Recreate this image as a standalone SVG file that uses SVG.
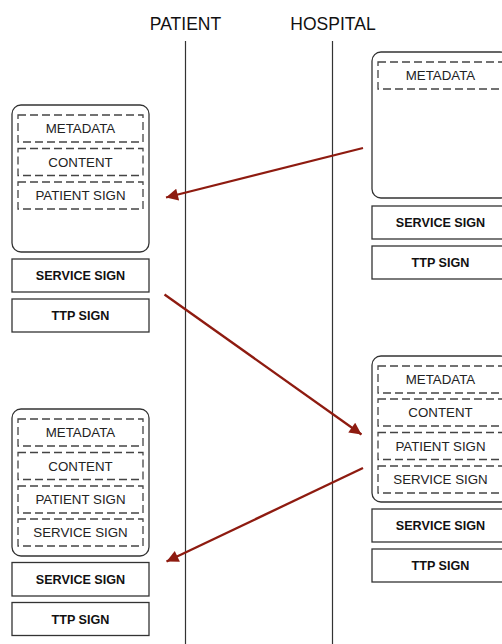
<svg xmlns="http://www.w3.org/2000/svg" width="502" height="644" viewBox="0 0 502 644">
<defs>
<style>
.title{font-family:"Liberation Sans",Arial,sans-serif;font-size:17.5px;fill:#111;text-anchor:middle}
.life{stroke:#333;stroke-width:1.2;fill:none}
.cont{fill:#fff;stroke:#333;stroke-width:1.3}
.dash{fill:none;stroke:#444;stroke-width:1.3;stroke-dasharray:8 4}
.box{fill:#fff;stroke:#333;stroke-width:1.3}
.lbl{font-family:"Liberation Sans",Arial,sans-serif;font-size:13.3px;fill:#222;text-anchor:middle}
.blbl{font-family:"Liberation Sans",Arial,sans-serif;font-size:12.6px;font-weight:bold;fill:#111;text-anchor:middle}
.arrow{stroke:#8e1b10;stroke-width:2.3;fill:none;marker-end:url(#ah)}
</style>
<marker id="ah" viewBox="0 0 10 10" refX="10" refY="5" markerWidth="17" markerHeight="12" markerUnits="userSpaceOnUse" orient="auto">
<path d="M0,0 L10,5 L0,10 z" fill="#8e1b10"/>
</marker>
</defs>
<rect width="502" height="644" fill="#fff"/>
<g id="lifelines">
<text class="title" x="185.5" y="30">PATIENT</text>
<text class="title" x="333" y="30">HOSPITAL</text>
<line class="life" x1="185.5" y1="41" x2="185.5" y2="644"/>
<line class="life" x1="332.5" y1="41" x2="332.5" y2="644"/>
</g>
<g id="patient-msg-1">
<rect class="cont" x="12" y="105" width="137" height="147" rx="9"/>
<rect class="dash" x="18" y="115" width="125" height="27"/>
<text class="lbl" x="80.5" y="133.3">METADATA</text>
<rect class="dash" x="18" y="148.5" width="125" height="27"/>
<text class="lbl" x="80.5" y="166.8">CONTENT</text>
<rect class="dash" x="18" y="182" width="125" height="27"/>
<text class="lbl" x="80.5" y="200.3">PATIENT SIGN</text>
<rect class="box" x="12" y="259" width="137" height="33"/>
<text class="blbl" x="80.5" y="280">SERVICE SIGN</text>
<rect class="box" x="12" y="299" width="137" height="33"/>
<text class="blbl" x="80.5" y="320">TTP SIGN</text>
</g>
<g id="hospital-msg-1">
<rect class="cont" x="372" y="52" width="137" height="146" rx="9"/>
<rect class="dash" x="378" y="62" width="125" height="27"/>
<text class="lbl" x="440.5" y="80.3">METADATA</text>
<rect class="box" x="372" y="206" width="137" height="33"/>
<text class="blbl" x="440.5" y="227">SERVICE SIGN</text>
<rect class="box" x="372" y="246" width="137" height="33"/>
<text class="blbl" x="440.5" y="267">TTP SIGN</text>
</g>
<g id="hospital-msg-2">
<rect class="cont" x="372" y="356" width="137" height="146" rx="9"/>
<rect class="dash" x="378" y="366" width="125" height="27"/>
<text class="lbl" x="440.5" y="384.3">METADATA</text>
<rect class="dash" x="378" y="399" width="125" height="27"/>
<text class="lbl" x="440.5" y="417.3">CONTENT</text>
<rect class="dash" x="378" y="432.5" width="125" height="27"/>
<text class="lbl" x="440.5" y="450.8">PATIENT SIGN</text>
<rect class="dash" x="378" y="466" width="125" height="27"/>
<text class="lbl" x="440.5" y="484.3">SERVICE SIGN</text>
<rect class="box" x="372" y="509" width="137" height="33"/>
<text class="blbl" x="440.5" y="530">SERVICE SIGN</text>
<rect class="box" x="372" y="549" width="137" height="33"/>
<text class="blbl" x="440.5" y="570">TTP SIGN</text>
</g>
<g id="patient-msg-2">
<rect class="cont" x="12" y="409" width="137" height="147" rx="9"/>
<rect class="dash" x="18" y="419" width="125" height="27"/>
<text class="lbl" x="80.5" y="437.3">METADATA</text>
<rect class="dash" x="18" y="452.5" width="125" height="27"/>
<text class="lbl" x="80.5" y="470.8">CONTENT</text>
<rect class="dash" x="18" y="486" width="125" height="27"/>
<text class="lbl" x="80.5" y="504.3">PATIENT SIGN</text>
<rect class="dash" x="18" y="519" width="125" height="27"/>
<text class="lbl" x="80.5" y="537.3">SERVICE SIGN</text>
<rect class="box" x="12" y="562.5" width="137" height="33.5"/>
<text class="blbl" x="80.5" y="583.7">SERVICE SIGN</text>
<rect class="box" x="12" y="602.5" width="137" height="33"/>
<text class="blbl" x="80.5" y="623.5">TTP SIGN</text>
</g>
<g id="connectors">
<line class="arrow" x1="363" y1="148" x2="166" y2="197.5"/>
<line class="arrow" x1="164.5" y1="294.5" x2="361.5" y2="434.5"/>
<line class="arrow" x1="363" y1="468" x2="166.5" y2="561.5"/>
</g>
</svg>
